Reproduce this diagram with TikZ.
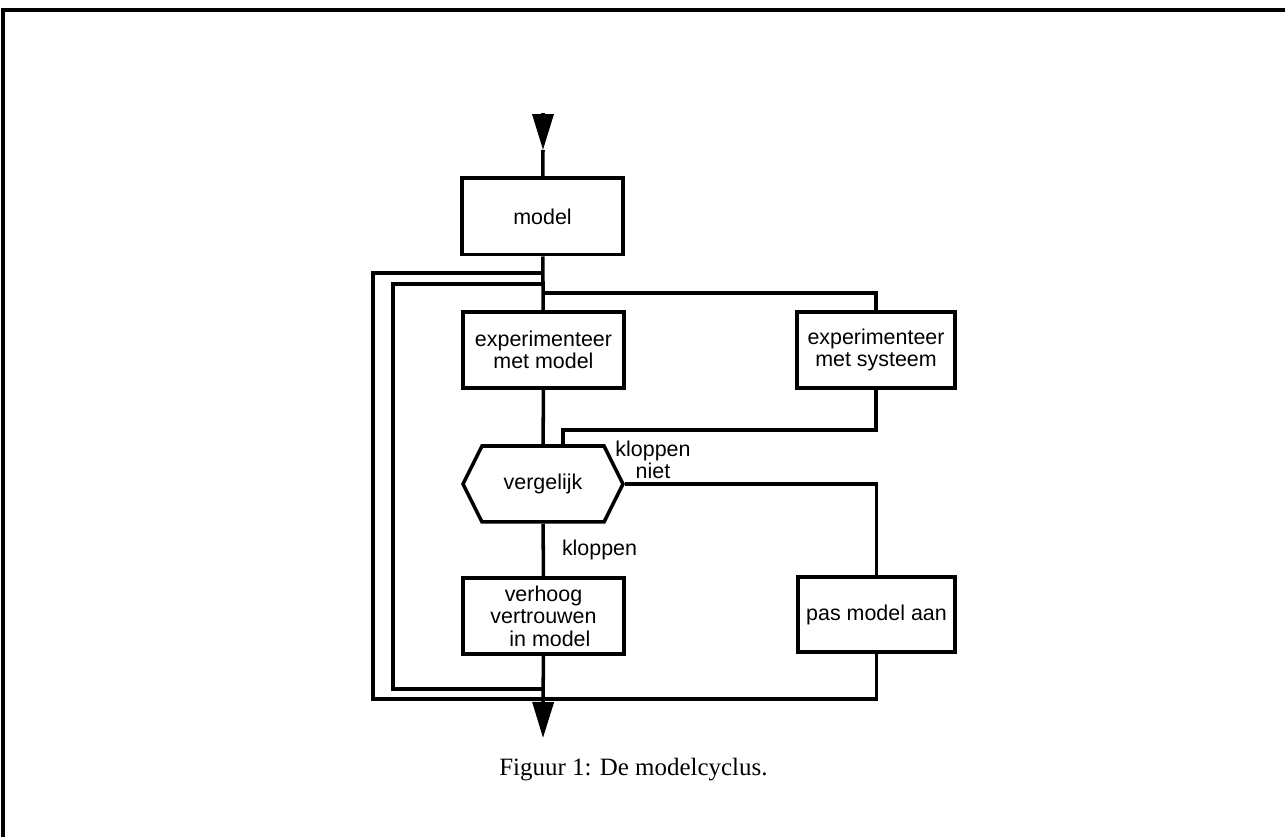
\documentclass[tikz,border=0pt]{standalone}
\usepackage{fontspec}
\setmainfont{Liberation Serif}
\newfontfamily\helv{Liberation Sans}
\usetikzlibrary{arrows.meta,shapes.symbols}

\tikzset{
  flow/.style={line width=2pt},
  tip/.style={-{Triangle[length=0.72cm,width=0.42cm]}},
  stepbox/.style={draw, line width=2pt, minimum width=3.22cm, minimum height=1.53cm,
    align=center, inner sep=1pt, font=\helv\fontsize{12.2}{12.8}\selectfont},
  lbl/.style={align=center, inner sep=0pt, font=\helv\fontsize{12.2}{11}\selectfont},
}

\begin{document}
\begin{tikzpicture}[x=0.02cm,y=-0.02cm]
\useasboundingbox (0,0) rectangle (1285,837);
\draw[line width=2pt] (3,837) -- (3,10) -- (1285,10);

\node[stepbox] (model) at (542.5,216.5) {model};
\node[stepbox] (expmod) at (543.5,350) {experimenteer\\met model};
\node[stepbox, minimum width=3.16cm] (expsys) at (876,350) {experimenteer\\met systeem};
\node[draw, line width=2pt, shape=signal, signal to=west and east, signal pointer angle=127,
  minimum width=3.2cm, minimum height=1.52cm, font=\helv\fontsize{12.2}{12.8}\selectfont]
  (vgl) at (543,484) {vergelijk};
\node[stepbox] (verh) at (543.5,616) {verhoog\\vertrouwen\\\hspace{0.6em}in model};
\node[stepbox, minimum width=3.14cm, minimum height=1.5cm] (pas) at (876.5,614.5) {pas model aan};
\node[lbl] (niet) at (653,460) {kloppen\\niet};

\coordinate (in) at (543,113);
\coordinate (intip) at (543,150);
\coordinate (outtip) at (543,738);
\coordinate (outtop) at (543,273);
\coordinate (outbot) at (543,699);
\coordinate (intop) at (543,284);
\coordinate (inbot) at (543,689);
\coordinate (split) at (543,293);

\draw[flow,tip] (in) -- (intip);
\draw[flow] (intip) -- (model);
\draw[flow] (model) -- (expmod);
\draw[flow] (outtop) -- ++(-170,0) |- (outbot);
\draw[flow] (intop) -- ++(-150,0) |- (inbot);
\draw[flow] (split) -| (expsys);
\draw[flow] (expmod) -- (vgl);
\draw[flow] (expsys.south) -- ++(0,40) -| ([xshift=0.4cm]vgl.north);
\draw[flow] (vgl.east) -| (pas);
\draw[flow] (vgl) -- node[lbl, anchor=west, xshift=0.34cm] (klop) {kloppen} (verh);
\draw[flow,tip] (verh) -- (outtip);
\draw[flow] (pas) |- (outbot);

\node[anchor=base west, inner sep=0pt, font=\fontsize{14.2}{16}\selectfont] (cap) at (499,775)
  {Figuur 1: De modelcyclus.};
\end{tikzpicture}
\end{document}
